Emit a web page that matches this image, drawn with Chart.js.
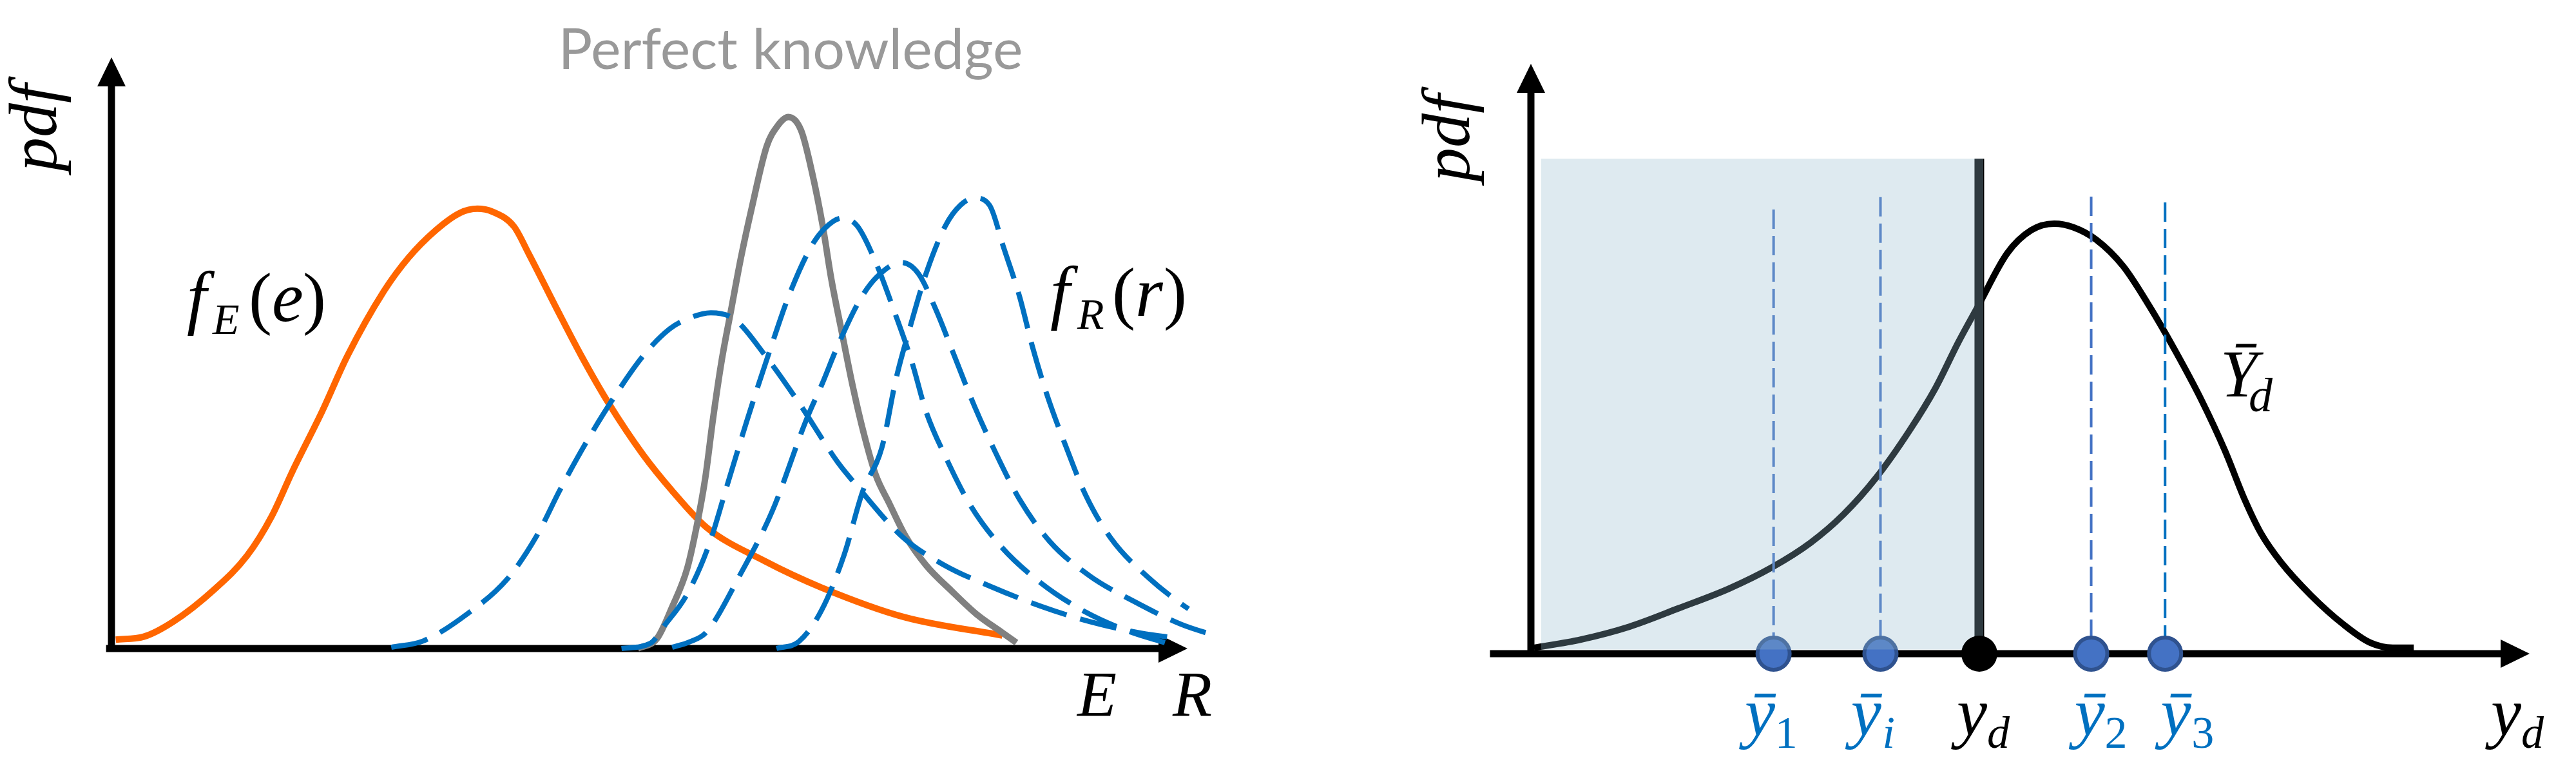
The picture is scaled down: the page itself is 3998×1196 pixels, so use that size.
<!DOCTYPE html>
<html>
<head>
<meta charset="utf-8">
<script src="https://cdn.jsdelivr.net/npm/chart.js@4.4.0/dist/chart.umd.min.js"></script>
<style>
  html, body { margin: 0; padding: 0; background: #fff; }
  #wrap { position: relative; width: 3998px; height: 1196px; overflow: hidden; background: #fff; }
  canvas { position: absolute; top: 0; }
  #chartLeft { left: 0; }
  #chartRight { left: 2000px; }
</style>
</head>
<body>
<div id="wrap">
  <canvas id="chartLeft" width="2000" height="1196"></canvas>
  <canvas id="chartRight" width="1998" height="1196"></canvas>
</div>
<script>
// ---- Left panel: load E, perfect knowledge, resistance R (x, y in 0..100 axis units) ----
const loadX = [0.4, 3.0, 5.7, 9.5, 12.6, 14.9, 16.8, 19.6, 21.9, 25.3, 27.6, 30.1, 32.4, 34.0, 35.4, 37.4, 38.8, 41.4, 43.7, 46.2, 49.4, 52.1, 55.3, 60.7, 66.0, 73.7, 82.8];
const loadY = [1.5, 2.0, 4.5, 9.9, 15.7, 22.4, 29.9, 40.2, 49.4, 60.4, 66.1, 70.7, 73.7, 74.4, 73.9, 71.4, 66.7, 57.4, 49.4, 41.5, 32.8, 26.7, 20.5, 14.8, 10.3, 5.3, 2.2];

const perfectX = [48.9, 50.7, 52.1, 53.5, 54.4, 55.2, 55.9, 56.7, 57.6, 58.5, 59.5, 60.9, 61.9, 62.9, 64.1, 65.1, 66.1, 66.9, 67.9, 68.9, 69.9, 71.0, 72.3, 73.8, 75.7, 78.1, 80.4, 82.7, 84.1];
const perfectY = [0.0, 1.7, 7.0, 13.5, 20.8, 29.0, 38.8, 48.6, 57.4, 66.1, 74.5, 85.0, 88.4, 89.9, 87.6, 80.6, 71.5, 62.5, 53.3, 44.3, 36.5, 29.5, 24.5, 19.0, 14.1, 9.7, 5.8, 2.8, 1.0];

const resist1X = [26.0, 29.0, 33.1, 36.8, 39.5, 41.7, 44.1, 46.6, 49.5, 51.9, 53.7, 55.7, 57.9, 60.7, 63.8, 67.5, 69.1, 73.5, 77.4, 81.7, 86.3, 91.0, 95.7, 99.2];
const resist1Y = [0.2, 1.3, 5.9, 11.8, 19.0, 26.9, 34.8, 42.2, 49.7, 54.1, 55.9, 56.8, 55.7, 49.7, 41.8, 31.5, 27.9, 18.9, 14.1, 10.5, 7.2, 4.5, 2.6, 1.7];

const resist2X = [47.4, 50.1, 51.4, 53.5, 55.5, 57.3, 59.1, 61.4, 63.0, 65.0, 66.3, 67.9, 69.3, 71.1, 72.8, 74.4, 75.7, 77.6, 79.8, 82.7, 86.3, 90.4, 94.7, 97.9];
const resist2Y = [0.0, 0.9, 3.9, 9.2, 17.4, 28.1, 38.8, 51.6, 59.9, 67.9, 71.1, 72.8, 71.5, 65.0, 56.8, 48.4, 40.1, 32.1, 24.3, 17.2, 11.2, 6.3, 2.8, 1.0];

const resist3X = [52.1, 53.7, 55.3, 58.4, 61.4, 64.6, 66.1, 67.4, 69.5, 71.1, 73.4, 75.0, 76.6, 78.4, 80.2, 82.2, 84.4, 87.2, 90.9, 95.0, 99.4, 102.7];
const resist3Y = [0.2, 1.1, 2.8, 12.4, 23.2, 38.8, 45.0, 50.8, 58.8, 62.8, 65.3, 63.4, 57.4, 49.2, 41.0, 33.0, 25.2, 18.1, 12.3, 8.0, 4.1, 2.1];

const resist4X = [61.8, 63.9, 66.0, 68.1, 69.8, 71.6, 72.9, 74.3, 75.7, 77.5, 78.9, 80.2, 81.6, 82.9, 84.4, 85.6, 87.0, 88.7, 90.5, 92.9, 96.3, 100.1, 104.2, 107.3];
const resist4Y = [0.0, 1.2, 6.5, 15.9, 26.5, 34.0, 45.5, 54.9, 63.4, 71.5, 75.0, 76.2, 75.0, 67.9, 59.5, 51.0, 42.6, 34.2, 26.1, 18.6, 12.1, 6.7, 2.3, 0.4];

// ---- Right panel: pdf of Ybar_d, shaded region, sample means ----
const meanX = [0.3, 5.0, 9.9, 14.8, 19.8, 24.1, 28.0, 31.3, 34.6, 37.9, 40.5, 42.8, 44.8, 47.7, 50.1, 52.4, 54.3, 56.6, 59.3, 61.9, 64.6, 67.2, 69.5, 71.5, 73.1, 75.1, 78.1, 81.4, 84.0, 86.3, 88.4];
const meanY = [1.0, 2.4, 4.6, 7.7, 11.0, 14.6, 18.8, 23.6, 29.9, 37.8, 45.0, 52.8, 59.0, 67.9, 71.8, 72.9, 72.3, 70.2, 65.7, 59.0, 51.1, 42.8, 34.4, 26.0, 20.4, 15.5, 9.9, 4.9, 1.9, 1.0, 1.0];

const shadeX = [1.0, 45.3];
const shadeTop = 83.9;
const designX = 44.9;                        // y_d
const sampleX = [24.3, 35.0, 56.1, 63.5];    // ybar_1, ybar_i, ybar_2, ybar_3
const sampleTop = [75.3, 77.4, 77.5, 76.5];
const sampleNames = ['1', 'i', '2', '3'];

const mathFont = '"Liberation Serif", "DejaVu Serif", serif';

function pts(xs, ys) {
  return xs.map((x, i) => ({ x: x, y: ys[i] }));
}

function curve(xs, ys, color, width, dash, order) {
  return {
    data: pts(xs, ys),
    borderColor: color,
    borderWidth: width,
    borderDash: dash || [],
    borderCapStyle: 'butt',
    pointRadius: 0,
    cubicInterpolationMode: 'monotone',
    fill: false,
    clip: false,
    order: order
  };
}

function vline(x, top, color, width, dash, order) {
  return {
    data: [{ x: x, y: top }, { x: x, y: 0 }],
    borderColor: color,
    borderWidth: width,
    borderDash: dash || [],
    pointRadius: 0,
    fill: false,
    clip: false,
    order: order
  };
}

// axes with arrow heads, drawn under the curves
function drawAxes(chart, xFrom) {
  const { ctx, scales: { x, y } } = chart;
  const x0 = x.getPixelForValue(0);
  const y0 = y.getPixelForValue(0);
  const xTip = x.getPixelForValue(100);
  const yTip = y.getPixelForValue(100);
  ctx.save();
  ctx.strokeStyle = '#000';
  ctx.fillStyle = '#000';
  ctx.lineWidth = 11;
  ctx.beginPath();
  ctx.moveTo(x.getPixelForValue(xFrom), y0);
  ctx.lineTo(xTip - 40, y0);
  ctx.moveTo(x0, y0 + 5);
  ctx.lineTo(x0, yTip + 40);
  ctx.stroke();
  ctx.beginPath();
  ctx.moveTo(xTip, y0);
  ctx.lineTo(xTip - 45, y0 - 22);
  ctx.lineTo(xTip - 45, y0 + 22);
  ctx.closePath();
  ctx.fill();
  ctx.beginPath();
  ctx.moveTo(x0, yTip);
  ctx.lineTo(x0 - 22, yTip + 45);
  ctx.lineTo(x0 + 22, yTip + 45);
  ctx.closePath();
  ctx.fill();
  ctx.restore();
}

function drawMath(ctx, x0, base, runs, color) {
  ctx.save();
  ctx.fillStyle = color;
  ctx.textAlign = 'left';
  ctx.textBaseline = 'alphabetic';
  runs.forEach(r => {
    ctx.font = (r.up ? '' : 'italic ') + r.size + 'px ' + mathFont;
    ctx.fillText(r.t, x0 + r.dx, base + (r.dy || 0));
  });
  ctx.restore();
}

function drawPdf(ctx, xBase, yStart) {
  ctx.save();
  ctx.translate(xBase, yStart);
  ctx.rotate(-Math.PI / 2);
  ctx.fillStyle = '#000';
  ctx.font = 'italic 106px ' + mathFont;
  ctx.textAlign = 'left';
  ctx.textBaseline = 'alphabetic';
  ctx.fillText('pdf', 0, 0);
  ctx.restore();
}

const baseOptions = (padding) => ({
  responsive: false,
  maintainAspectRatio: false,
  animation: false,
  devicePixelRatio: 1,
  events: [],
  layout: { padding: padding },
  plugins: {
    legend: { display: false },
    tooltip: { enabled: false },
    title: { display: false }
  },
  scales: {
    x: { type: 'linear', min: 0, max: 100, display: false },
    y: { type: 'linear', min: 0, max: 100, display: false }
  }
});

// ---------------- Left chart ----------------
const blue = '#0070c0';
const dash = [58, 22];

new Chart(document.getElementById('chartLeft'), {
  type: 'line',
  data: {
    datasets: [
      curve(resist1X, resist1Y, blue, 8, dash, 0),
      curve(resist2X, resist2Y, blue, 8, dash, 0),
      curve(resist3X, resist3Y, blue, 8, dash, 0),
      curve(resist4X, resist4Y, blue, 8, dash, 0),
      curve(perfectX, perfectY, '#808080', 10, null, 1),
      curve(loadX, loadY, '#ff6600', 10, null, 2)
    ]
  },
  options: baseOptions({ left: 173, right: 157, top: 89, bottom: 190 }),
  plugins: [{
    id: 'leftDecor',
    beforeDatasetsDraw(chart) { drawAxes(chart, -0.5); },
    afterDatasetsDraw(chart) {
      const ctx = chart.ctx;
      drawPdf(ctx, 87, 266);

      // title in grey
      ctx.save();
      ctx.fillStyle = '#999999';
      ctx.font = '86px Lato, "Open Sans", sans-serif';
      const w = ctx.measureText('Perfect knowledge').width;
      ctx.font = (86 * 721 / w).toFixed(1) + 'px Lato, "Open Sans", sans-serif';
      ctx.textAlign = 'center';
      ctx.textBaseline = 'alphabetic';
      ctx.fillText('Perfect knowledge', 1227, 107);
      ctx.restore();

      drawMath(ctx, 290, 498, [
        { t: 'f', dx: 0, size: 110 },
        { t: 'E', dx: 40, size: 68, dy: 20 },
        { t: '(', dx: 96, size: 108, up: true },
        { t: 'e', dx: 132, size: 110 },
        { t: ')', dx: 180, size: 108, up: true }
      ], '#000');
      drawMath(ctx, 1630, 490, [
        { t: 'f', dx: 0, size: 110 },
        { t: 'R', dx: 42, size: 68, dy: 20 },
        { t: '(', dx: 96, size: 108, up: true },
        { t: 'r', dx: 132, size: 110 },
        { t: ')', dx: 176, size: 108, up: true }
      ], '#000');
      drawMath(ctx, 1672, 1110, [{ t: 'E', dx: 0, size: 100 }], '#000');
      drawMath(ctx, 1820, 1110, [{ t: 'R', dx: 0, size: 100 }], '#000');
    }
  }]
});

// ---------------- Right chart ----------------
const rightSets = [
  {
    // y_d marker on the axis
    data: [{ x: designX, y: 0 }],
    showLine: false,
    pointRadius: 28,
    pointBorderWidth: 0,
    pointBackgroundColor: '#000',
    clip: false,
    order: 0
  },
  {
    // shaded region below y_d (translucent, over the curve)
    data: shadeX.map(x => ({ x: x, y: shadeTop })),
    borderColor: 'rgba(0,0,0,0)',
    borderWidth: 0,
    pointRadius: 0,
    fill: { value: 0.7 },
    backgroundColor: 'rgba(150,186,206,0.31)',
    clip: false,
    order: 1
  },
  {
    // sample means
    data: sampleX.map(x => ({ x: x, y: 0 })),
    showLine: false,
    pointRadius: 25,
    pointBorderWidth: 6,
    pointBackgroundColor: '#4472c4',
    pointBorderColor: '#2f528f',
    clip: false,
    order: 2
  }
];
sampleX.forEach((x, i) => {
  rightSets.push(vline(x, sampleTop[i], i === 3 ? '#0070c0' : '#4472c4', 4, [30, 11], 3));
});
rightSets.push(vline(designX, shadeTop, '#000', 15, null, 4));
rightSets.push(curve(meanX, meanY, '#000', 10, null, 5));

new Chart(document.getElementById('chartRight'), {
  type: 'line',
  data: { datasets: rightSets },
  options: baseOptions({ left: 376, right: 72, top: 99, bottom: 182 }),
  plugins: [{
    id: 'rightDecor',
    beforeDatasetsDraw(chart) { drawAxes(chart, -4.1); },
    afterDatasetsDraw(chart) {
      const ctx = chart.ctx;
      const xs = chart.scales.x;
      drawPdf(ctx, 280, 282);

      drawMath(ctx, 1446, 615, [
        { t: '\u0232', dx: 0, size: 104 },
        { t: 'd', dx: 44, size: 74, dy: 23 }
      ], '#000');

      const base = 1140;
      const lefts = [-45, -46, -26, -7];
      const subDx = [47, 49, 47, 48];
      sampleX.forEach((x, i) => {
        const left = xs.getPixelForValue(x) + lefts[i];
        const digit = /[0-9]/.test(sampleNames[i]);
        drawMath(ctx, left, base, [
          { t: '\u0233', dx: 0, size: 106 },
          { t: sampleNames[i], dx: subDx[i], size: 70, dy: 20, up: digit }
        ], '#0070c0');
      });
      drawMath(ctx, xs.getPixelForValue(designX) - 35, base, [
        { t: 'y', dx: 0, size: 106 },
        { t: 'd', dx: 47, size: 70, dy: 20 }
      ], '#000');
      drawMath(ctx, 1866, base, [
        { t: 'y', dx: 0, size: 106 },
        { t: 'd', dx: 47, size: 70, dy: 20 }
      ], '#000');
    }
  }]
});
</script>
</body>
</html>
